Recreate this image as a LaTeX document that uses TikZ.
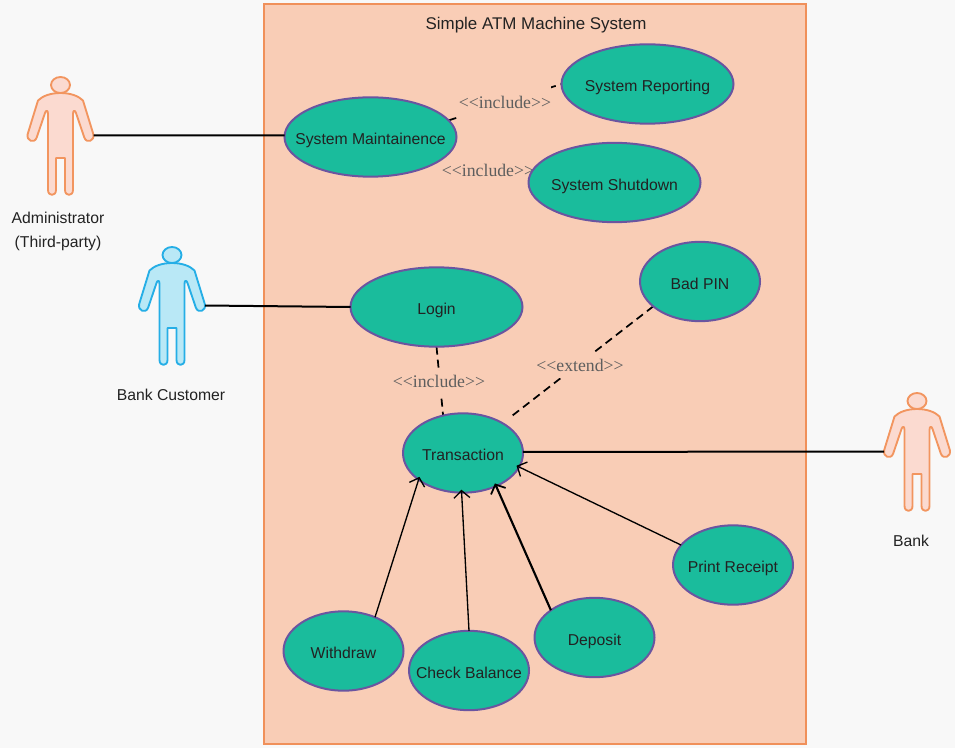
\documentclass[tikz,border=0pt]{standalone}
\usepackage{fontspec}
\setmainfont{Liberation Sans}
\newfontfamily\labelserif{Liberation Serif}
\usetikzlibrary{shapes.geometric,arrows.meta}
\pgfdeclarelayer{conn}
\pgfsetlayers{conn,main}
\definecolor{pagebg}{HTML}{F8F8F8}
\definecolor{sysfill}{HTML}{F9CDB6}
\definecolor{sysline}{HTML}{F0905A}
\definecolor{ucfill}{HTML}{1ABC9C}
\definecolor{ucline}{HTML}{6A55A0}
\definecolor{txt}{HTML}{222222}
\definecolor{stereo}{HTML}{5E5E5E}
\definecolor{orfill}{HTML}{FBDAD0}
\definecolor{orline}{HTML}{F2955F}
\definecolor{blfill}{HTML}{B9E8F6}
\definecolor{blline}{HTML}{25AEE6}
\newcommand{\uctext}[1]{\makebox[0pt]{\raisebox{-5.8pt}[0pt][0pt]{#1}}}
\tikzset{
  usecase/.style={ellipse,draw=ucline,fill=ucfill,line width=1.5pt,inner sep=0pt,outer sep=0pt,
    minimum height=59.5pt,text=txt,font=\fontsize{11.8}{14}\selectfont},
  wide/.style={usecase,minimum width=129pt},
  narrow/.style={usecase,minimum width=90pt},
  caption/.style={text=txt,inner sep=0pt,font=\fontsize{11.8}{14}\selectfont},
  stereotype/.style={fill=sysfill,text=stereo,inner sep=0pt,minimum height=19.5pt,
    font=\labelserif\fontsize{13.3}{14}\selectfont},
  assoc/.style={draw=black,line width=1.5pt},
  dashlink/.style={draw=black,line width=1.3pt,dash pattern=on 6pt off 3.8pt},
  gen/.style={draw=black,line width=1pt,-{Straight Barb[length=5.5pt,width=12pt,line width=1pt]},shorten >=-2.2pt},
  genbold/.style={draw=black,line width=1.6pt,-{Straight Barb[length=5.5pt,width=12pt,line width=1.3pt]},shorten >=-2.2pt},
  actor/.pic={
    \path[fill=\actorfill,draw=\actorline,line width=1.4pt,line join=round]
      (0,8) .. controls (10,8) and (18,11) .. (22.5,15.5) -- (32.8,49)
      .. controls (34.5,56) and (26,59) .. (23.8,52.5) -- (15.5,28)
      .. controls (14.5,25) and (12.5,25) .. (12.5,29) -- (12.5,105)
      .. controls (12.5,111.5) and (4.5,111.5) .. (4.5,105) -- (4.5,73) -- (-4.5,73) -- (-4.5,105)
      .. controls (-4.5,111.5) and (-12.5,111.5) .. (-12.5,105) -- (-12.5,29)
      .. controls (-12.5,25) and (-14.5,25) .. (-15.5,28) -- (-23.8,52.5)
      .. controls (-26,59) and (-34.5,56) .. (-32.8,49) -- (-22.5,15.5)
      .. controls (-18,11) and (-10,8) .. (0,8) -- cycle;
    \path[fill=\actorfill,draw=\actorline,line width=1.4pt] (0,0) ellipse [x radius=9.5,y radius=8];
    \coordinate (-rh) at (33,50.5);
    \coordinate (-lh) at (-33,50.5);
  }
}
\newcommand{\actorfill}{orfill}
\newcommand{\actorline}{orline}
\begin{document}
\begin{tikzpicture}[x=0.75pt,y=-0.75pt]
\useasboundingbox (0,0) rectangle (955,748);
\begin{pgfonlayer}{conn}
\fill[pagebg] (0,0) rectangle (955,748);
\path[fill=sysfill,draw=sysline,line width=1.5pt] (264,4) rectangle (806,744);
\end{pgfonlayer}
\node[caption,font=\fontsize{12.7}{14}\selectfont] (title) at (536,25) {Simple ATM Machine System};

\node[wide] (maint) at (370.5,137) {\uctext{System Maintainence}};
\node[wide] (report) at (647.5,84) {\uctext{System Reporting}};
\node[wide] (shutdown) at (614.5,182.5) {\uctext{System Shutdown}};
\node[wide] (login) at (436.5,307) {\uctext{Login}};
\node[narrow] (badpin) at (700,281.5) {\uctext{Bad PIN}};
\node[narrow] (trans) at (463,453) {\uctext{Transaction}};
\node[narrow] (print) at (733,565) {\uctext{Print Receipt}};
\node[narrow] (deposit) at (594.5,637.5) {\uctext{Deposit}};
\node[narrow] (check) at (469,670.5) {\uctext{Check Balance}};
\node[narrow] (withdraw) at (343.5,651) {\uctext{Withdraw}};

\pic (adm) at (60.5,85) {actor};
\pic (bank) at (917,401) {actor};
\renewcommand{\actorfill}{blfill}
\renewcommand{\actorline}{blline}
\pic (cust) at (172,255) {actor};

\node[caption] (admname) at (58,218) {Administrator};
\node[caption] (admnote) at (58,243) {(Third-party)};
\node[caption] (custname) at (171,395) {Bank Customer};
\node[caption] (bankname) at (911,541) {Bank};

\begin{pgfonlayer}{conn}
\path[dashlink] (maint.12) -- (report.180);
\path[dashlink] (maint.-17) -- (shutdown.180);
\path[dashlink] (login.south) -- (trans.118);
\path[dashlink,shorten >=8.5pt] (badpin.208) -- (trans.37);
\node[stereotype,minimum height=24pt] (inc1) at (505,102) {\raisebox{-3pt}{<<include>>}};
\node[stereotype] (inc2) at (488,170) {<<include>>};
\node[stereotype] (inc3) at (439,381) {<<include>>};
\node[stereotype] (ext) at (580,365) {<<extend>>};
\end{pgfonlayer}

\path[assoc] (adm-rh) -- (maint.179);
\path[assoc] (cust-rh) -- (login.west);
\path[assoc] (trans.1) -- (bank-lh);
\path[gen] (withdraw.47) -- (trans.211);
\path[gen] (check.north) -- (trans.268);
\path[genbold] (deposit.148) -- (trans.315);
\path[gen] (print.159) -- (trans.346);
\end{tikzpicture}
\end{document}
